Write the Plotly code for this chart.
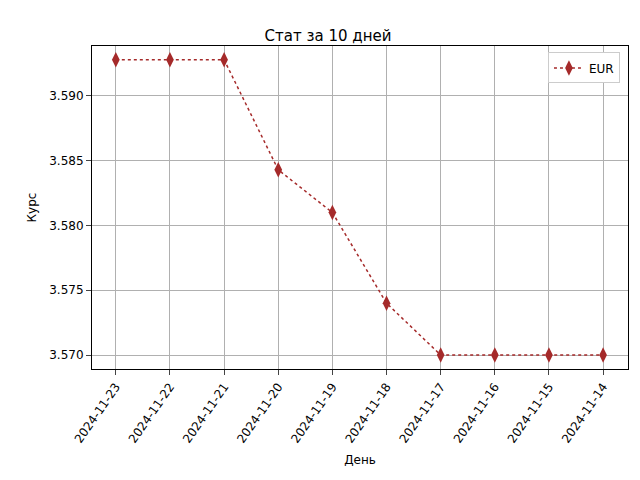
import plotly.graph_objects as go

days = ['2024-11-23', '2024-11-22', '2024-11-21', '2024-11-20', '2024-11-19',
        '2024-11-18', '2024-11-17', '2024-11-16', '2024-11-15', '2024-11-14']
eur = [3.5928, 3.5928, 3.5928, 3.5843, 3.5810, 3.5740, 3.5700, 3.5700, 3.5700, 3.5700]

fig = go.Figure()
fig.add_trace(go.Scatter(
    x=days, y=eur, name='EUR', mode='lines+markers',
    line=dict(color='#a52a2a', dash='dot', width=1.5),
    marker=dict(symbol='diamond-tall', size=11, color='#a52a2a'),
))

axis = dict(showline=True, linecolor='black', mirror=True, ticks='outside',
            showgrid=True, gridcolor='#b0b0b0', gridwidth=1, zeroline=False,
            automargin=False, tickfont=dict(size=12, color='black'))
fig.update_layout(
    width=640, height=480,
    plot_bgcolor='white', paper_bgcolor='white',
    font=dict(family='DejaVu Sans', color='black'),
    title=dict(text='Стат за 10 дней', x=0.5, y=0.953, xanchor='center', font=dict(size=15)),
    margin=dict(l=84, r=20, t=38, b=119, autoexpand=False),
    showlegend=True,
    legend=dict(x=0.985, y=0.98, xanchor='right', yanchor='top', bordercolor='#cccccc',
                borderwidth=1, font=dict(size=12)),
)
fig.update_xaxes(axis, title=dict(text='День', font=dict(size=12), standoff=10), tickangle=-55,
                 range=[-0.44, 9.46], type='category')
fig.update_yaxes(axis, title=dict(text='Курс', font=dict(size=12), standoff=10),
                 range=[3.56892, 3.59386], tickformat='.3f', dtick=0.005)

fig.write_html('out.html')
